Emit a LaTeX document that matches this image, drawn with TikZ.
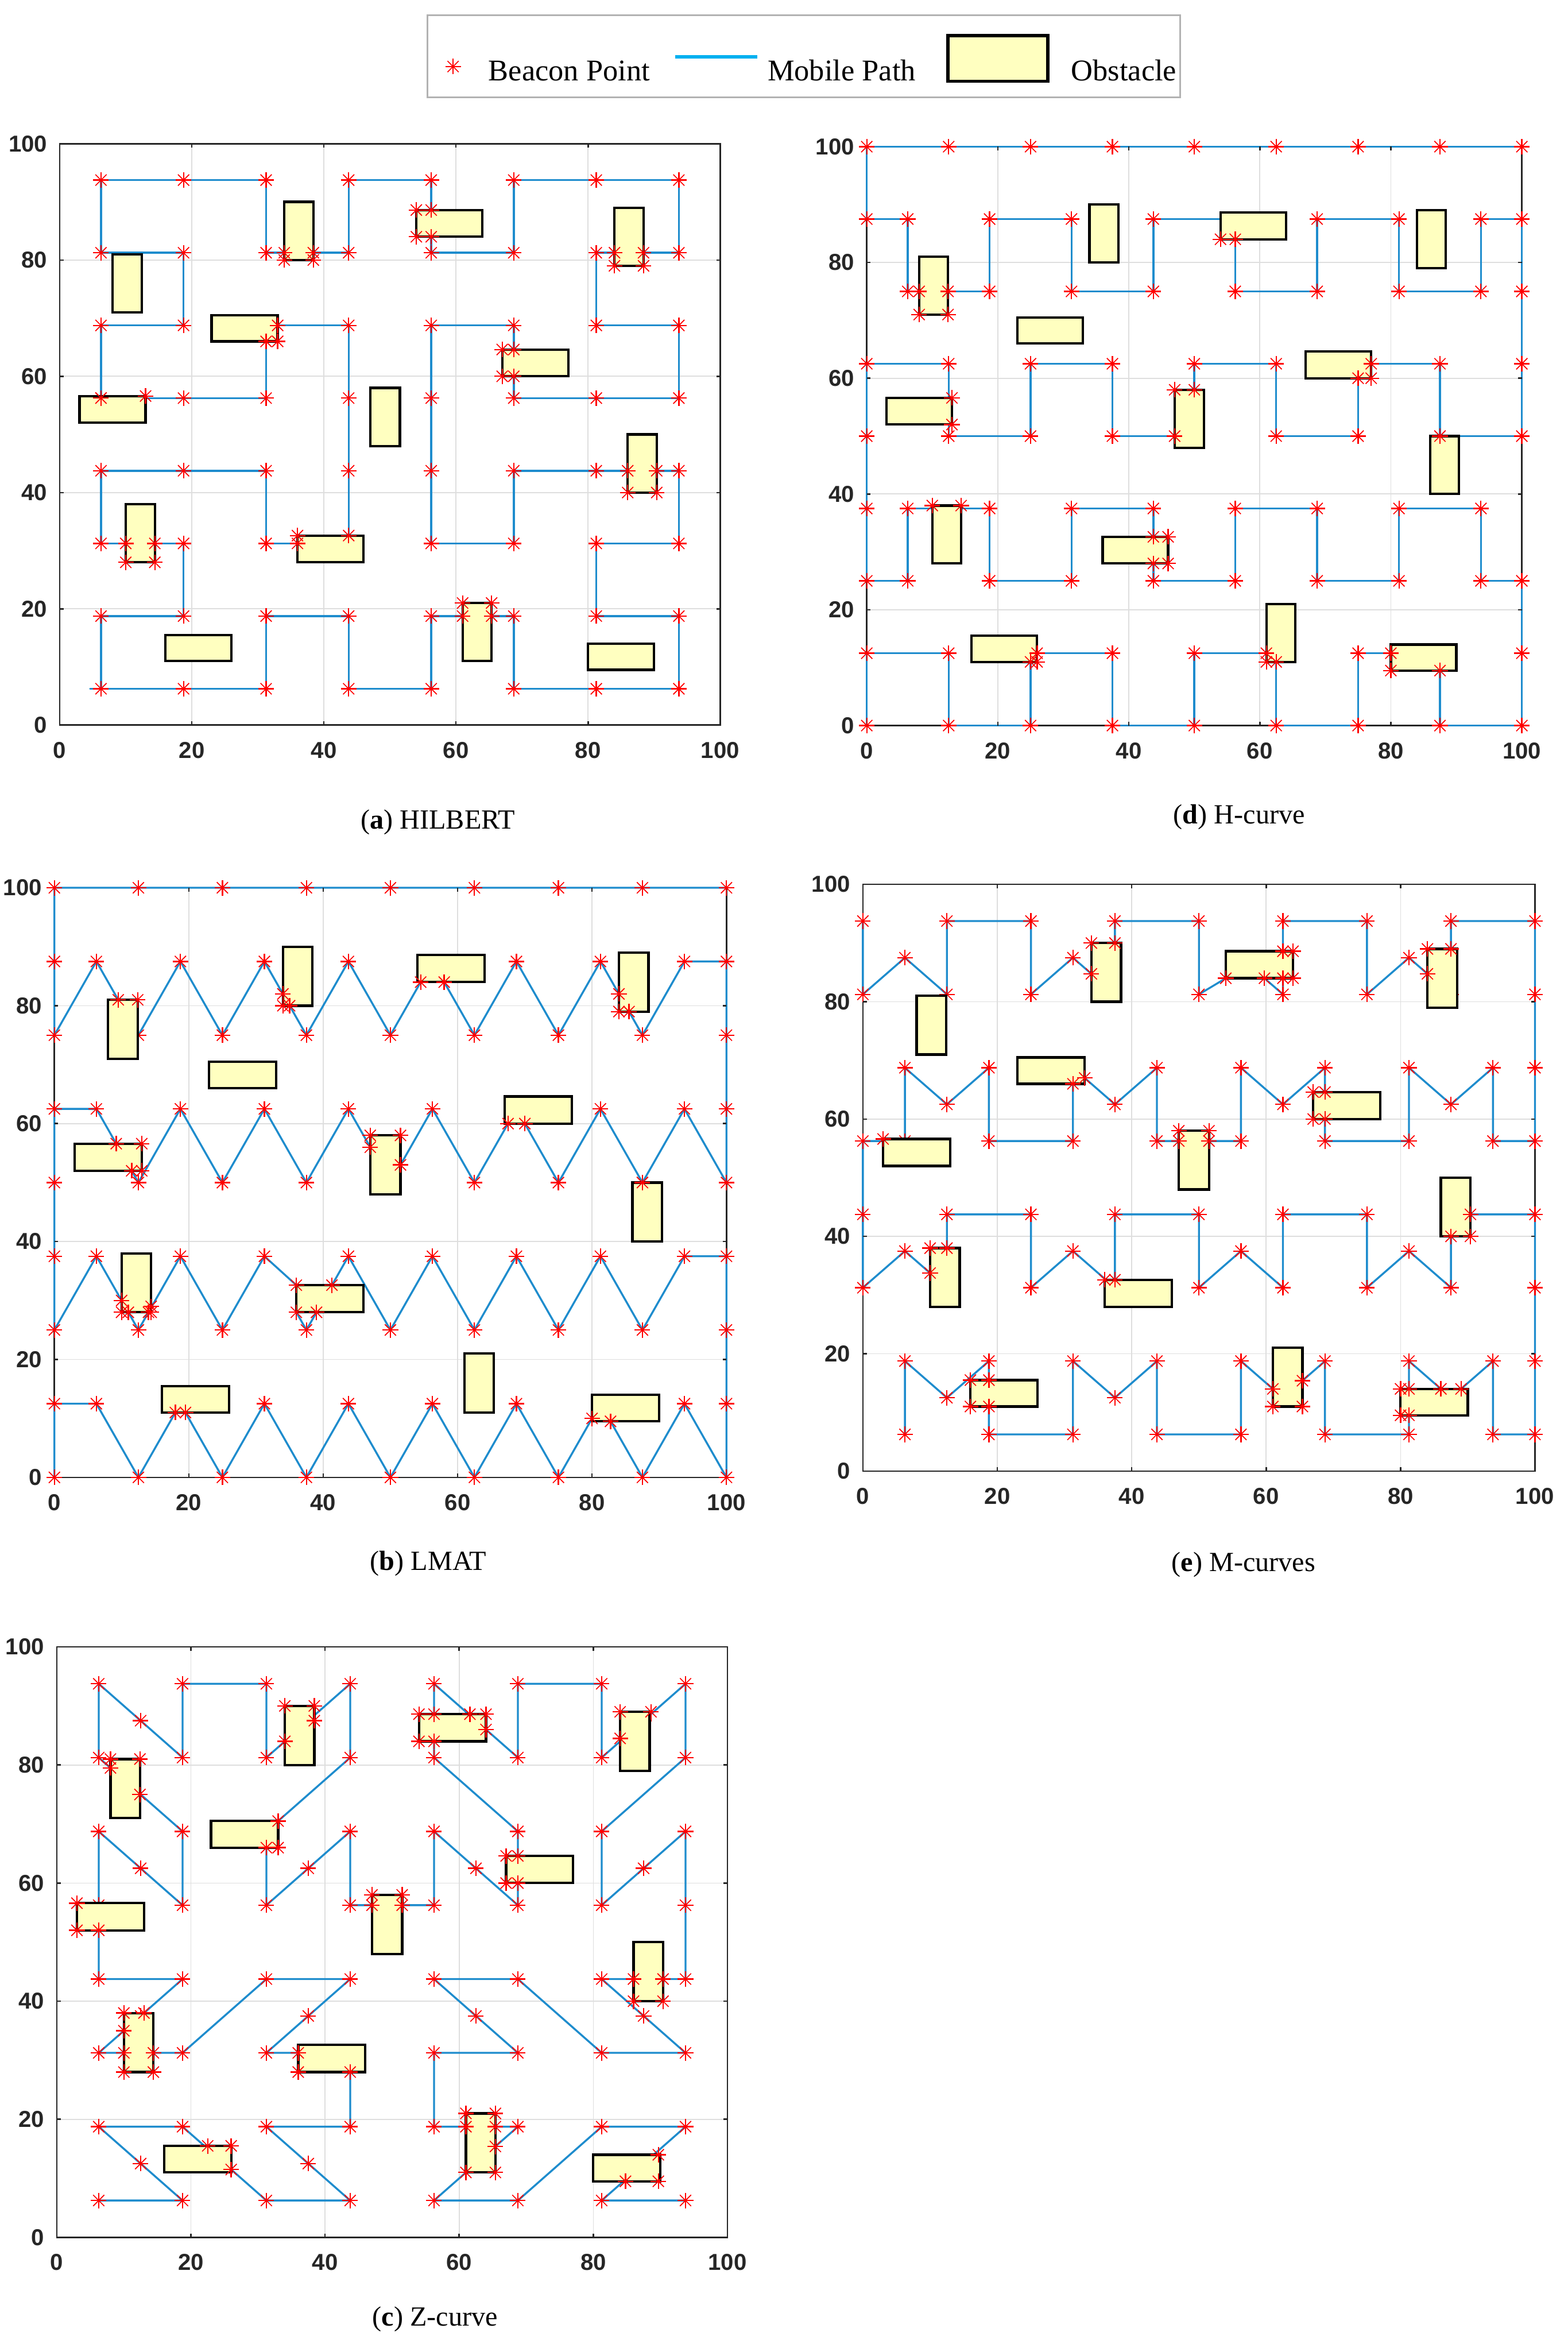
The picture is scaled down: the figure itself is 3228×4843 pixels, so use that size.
\documentclass[tikz,border=0pt]{standalone}
\usepackage{fontspec}
\setmainfont{Liberation Serif}
\newfontfamily\ticksf{Liberation Sans}
\definecolor{pathblue}{RGB}{30,140,205}
\definecolor{legblue}{RGB}{0,176,240}
\definecolor{obfill}{RGB}{255,255,192}
\definecolor{axgray}{RGB}{38,38,38}
\definecolor{gridgray}{RGB}{222,222,222}
\tikzset{
 mpath/.style={draw=pathblue,line width=0.8pt,line join=round,line cap=round},
 obst/.style={fill=obfill,draw=black,line width=1pt},
 gridln/.style={draw=gridgray,line width=0.4pt},
 axframe/.style={draw=axgray,line width=0.6pt},
 ticklab/.style={font=\ticksf\bfseries\fontsize{9.5}{11}\selectfont,text=axgray,inner sep=0pt},
 caplab/.style={font=\fontsize{11.4}{13}\selectfont,inner sep=0pt},
 leglab/.style={font=\fontsize{12.4}{14}\selectfont,inner sep=0pt,anchor=base west},
 bp/.pic={\draw[red,line width=0.55pt] (-3.2pt,0)--(3.2pt,0) (0,-3.2pt)--(0,3.2pt);
          \draw[red,line width=0.4pt] (-2.3pt,-2.3pt)--(2.3pt,2.3pt) (-2.3pt,2.3pt)--(2.3pt,-2.3pt);}
}
\newcommand\axesbg{%
  \foreach \v in {20,40,60,80} {\draw[gridln] (\v,0)--(\v,100); \draw[gridln] (0,\v)--(100,\v);}
  \draw[axframe] (0,0) rectangle (100,100);}
\newcommand\axesfg[1]{%
  \foreach \v in {20,40,60,80} {\draw[axframe] (\v,0)--++(0,1.6pt) (\v,100)--++(0,-1.6pt) (0,\v)--++(1.6pt,0) (100,\v)--++(-1.6pt,0);}
  \foreach \v in {0,20,40,60,80,100} {%
    \node[ticklab,anchor=east,xshift=-5pt] (#1y\v) at (0,\v) {\v};
    \node[ticklab,anchor=base,yshift=-13.6pt] (#1x\v) at (\v,0) {\v};}}
\newcommand\obstacles{%
  \foreach \a/\b/\c/\d in {34/80/38.4/90, 54/84/64/88.6, 84/79/88.4/89, 8/71/12.4/81, 23/66/33/70.5, 67/60/77/64.6, 3/52/13/56.6, 47/48/51.5/58, 86/40/90.4/50, 10/28/14.4/38, 36/28/46/32.6, 61/11/65.4/21, 16/11/26/15.5, 80/9.5/90/14}
  {\draw[obst] (\a,\b) rectangle (\c,\d);}}
\newcommand\mk[1]{\foreach \p in {#1} {\pic at \p {bp};}}
\newcommand\gridmk{\foreach \i in {6.25,18.75,31.25,43.75,56.25,68.75,81.25,93.75} {\foreach \j in {6.25,18.75,31.25,43.75,56.25,68.75,81.25,93.75} {\pic at (\i,\j) {bp};}}}
\begin{document}
\begin{tikzpicture}[x=0.2pt,y=-0.2pt]
\fill[white] (0,0) rectangle (3228,4843);
\useasboundingbox (0,0) rectangle (3228,4843);
% legend
\draw[draw=gray!60,line width=0.7pt] (880,31) rectangle (2430,200);
\pic at (933,137) {bp};
\node[leglab] (lbeacon) at (1005,166) {Beacon Point};
\draw[legblue,line width=1.4pt] (1390,117) -- (1560,117);
\node[leglab] (lpath) at (1580,166) {Mobile Path};
\draw[fill=obfill,draw=black,line width=1.3pt] (1952,73) rectangle (2158,167);
\node[leglab] (lobst) at (2205,166) {Obstacle};
% captions
\node[caplab] (capa) at (902,1693) {(\textbf{a}) HILBERT};
\node[caplab] (capd) at (2552,1682) {(\textbf{d}) H-curve};
\node[caplab] (capb) at (882,3219) {(\textbf{b}) LMAT};
\node[caplab] (cape) at (2561,3222) {(\textbf{e}) M-curves};
\node[caplab] (capc) at (896,4776) {(\textbf{c}) Z-curve};

% ---------------- (a) HILBERT
\begin{scope}[shift={(123,1493)},x=2.72pt,y=2.394pt]
\axesbg
\draw[mpath] (4.6,6.25) -- (6.25,6.25) -- (18.75,6.25) -- (31.25,6.25) -- (31.25,18.75) -- (43.75,18.75) -- (43.75,6.25) -- (56.25,6.25) -- (56.25,18.75) -- (68.75,18.75) -- (68.75,6.25) -- (81.25,6.25) -- (93.75,6.25) -- (93.75,18.75) -- (81.25,18.75) -- (81.25,31.25) -- (93.75,31.25) -- (93.75,43.75) -- (81.25,43.75) -- (68.75,43.75) -- (68.75,31.25) -- (56.25,31.25) -- (56.25,68.75) -- (68.75,68.75) -- (68.75,56.25) -- (81.25,56.25) -- (93.75,56.25) -- (93.75,68.75) -- (81.25,68.75) -- (81.25,81.25) -- (93.75,81.25) -- (93.75,93.75) -- (81.25,93.75) -- (68.75,93.75) -- (68.75,81.25) -- (56.25,81.25) -- (56.25,93.75) -- (43.75,93.75) -- (43.75,81.25) -- (31.25,81.25) -- (31.25,93.75) -- (18.75,93.75) -- (6.25,93.75) -- (6.25,81.25) -- (18.75,81.25) -- (18.75,68.75) -- (6.25,68.75) -- (6.25,56.25) -- (18.75,56.25) -- (31.25,56.25) -- (31.25,68.75) -- (43.75,68.75) -- (43.75,31.25) -- (31.25,31.25) -- (31.25,43.75) -- (18.75,43.75) -- (6.25,43.75) -- (6.25,31.25) -- (18.75,31.25) -- (18.75,18.75) -- (6.25,18.75) -- (6.25,6.25);
\gridmk
\obstacles
\mk{(34,81.25),(34,80),(38.4,80),(38.4,81.25),(54,88.6),(56.25,88.6),(54,84),(56.25,84),(84,81.25),(88.4,81.25),(84,79),(88.4,79),(33,68.75),(33,66),(31.25,66),(67,64.6),(68.75,64.6),(67,60),(68.75,60),(13,56.6),(6.25,56.25),(86,43.75),(90.4,43.75),(86,40),(90.4,40),(10,31.25),(14.4,31.25),(10,28),(14.4,28),(36,32.6),(43.75,32.6),(36,31.25),(61,21),(65.4,21),(61,18.75),(65.4,18.75)}
\axesfg{a}
\end{scope}

% ---------------- (d) H-curve
\begin{scope}[shift={(1785,1494)},x=2.698pt,y=2.384pt]
\axesbg
\draw[mpath] (0,0) -- (0,12.5) -- (12.5,12.5) -- (12.5,0) -- (25,0) -- (25,12.5) -- (37.5,12.5) -- (37.5,0) -- (50,0) -- (50,12.5) -- (62.5,12.5) -- (62.5,0) -- (75,0) -- (75,12.5) -- (87.5,12.5) -- (87.5,0) -- (100,0) -- (100,25) -- (93.75,25) -- (93.75,37.5) -- (81.25,37.5) -- (81.25,25) -- (68.75,25) -- (68.75,37.5) -- (56.25,37.5) -- (56.25,25) -- (43.75,25) -- (43.75,37.5) -- (31.25,37.5) -- (31.25,25) -- (18.75,25) -- (18.75,37.5) -- (6.25,37.5) -- (6.25,25) -- (0,25) -- (0,62.5) -- (12.5,62.5) -- (12.5,50) -- (25,50) -- (25,62.5) -- (37.5,62.5) -- (37.5,50) -- (50,50) -- (50,62.5) -- (62.5,62.5) -- (62.5,50) -- (75,50) -- (75,62.5) -- (87.5,62.5) -- (87.5,50) -- (100,50) -- (100,87.5) -- (93.75,87.5) -- (93.75,75) -- (81.25,75) -- (81.25,87.5) -- (68.75,87.5) -- (68.75,75) -- (56.25,75) -- (56.25,87.5) -- (43.75,87.5) -- (43.75,75) -- (31.25,75) -- (31.25,87.5) -- (18.75,87.5) -- (18.75,75) -- (6.25,75) -- (6.25,87.5) -- (0,87.5) -- (0,100) -- (100,100);
\foreach \y in {100,62.5,50,12.5,0} {\foreach \x in {0,12.5,25,37.5,50,62.5,75,87.5,100} {\pic at (\x,\y) {bp};}}
\foreach \y in {87.5,25} {\foreach \x in {0,6.25,18.75,31.25,43.75,56.25,68.75,81.25,93.75,100} {\pic at (\x,\y) {bp};}}
\foreach \x in {6.25,18.75,31.25,43.75,56.25,68.75,81.25,93.75,100} {\pic at (\x,75) {bp};}
\foreach \x in {0,6.25,18.75,31.25,43.75,56.25,68.75,81.25,93.75} {\pic at (\x,37.5) {bp};}
\obstacles
\mk{(8,75),(8,71),(12.4,71),(12.4,75),(54,84),(56.25,84),(13,56.6),(13,52),(47,58),(50,58),(47,50),(75,60),(77,60),(77,62.5),(87.5,50),(10,38),(14.4,38),(43.75,32.6),(46,32.6),(46,28),(43.75,28),(25,11),(26,11),(26,12.5),(61,12.5),(61,11),(62.5,11),(80,12.5),(80,9.5),(87.5,9.5)}
\axesfg{d}
\end{scope}

% ---------------- (b) LMAT
\begin{scope}[shift={(112,3042)},x=2.768pt,y=2.428pt]
\axesbg
\draw[mpath] (0,0) -- (0,12.5) -- (6.25,12.5) -- (12.5,0) -- (18.75,12.5) -- (25,0) -- (31.25,12.5) -- (37.5,0) -- (43.75,12.5) -- (50,0) -- (56.25,12.5) -- (62.5,0) -- (68.75,12.5) -- (75,0) -- (81.25,12.5) -- (87.5,0) -- (93.75,12.5) -- (100,0) -- (100,37.5) -- (93.75,37.5) -- (87.5,25) -- (81.25,37.5) -- (75,25) -- (68.75,37.5) -- (62.5,25) -- (56.25,37.5) -- (50,25) -- (43.75,37.5) -- (37.5,25) -- (36,28) -- (36,32.6) -- (31.25,37.5) -- (25,25) -- (18.75,37.5) -- (12.5,25) -- (6.25,37.5) -- (0,25) -- (0,62.5) -- (6.25,62.5) -- (12.5,50) -- (18.75,62.5) -- (25,50) -- (31.25,62.5) -- (37.5,50) -- (43.75,62.5) -- (50,50) -- (56.25,62.5) -- (62.5,50) -- (68.75,62.5) -- (75,50) -- (81.25,62.5) -- (87.5,50) -- (93.75,62.5) -- (100,50) -- (100,87.5) -- (93.75,87.5) -- (87.5,75) -- (81.25,87.5) -- (75,75) -- (68.75,87.5) -- (62.5,75) -- (56.25,87.5) -- (50,75) -- (43.75,87.5) -- (37.5,75) -- (31.25,87.5) -- (25,75) -- (18.75,87.5) -- (12.5,75) -- (6.25,87.5) -- (0,75) -- (0,100) -- (100,100);
\foreach \y in {87.5,62.5,37.5,12.5} {\foreach \x in {0,6.25,18.75,31.25,43.75,56.25,68.75,81.25,93.75,100} {\pic at (\x,\y) {bp};}}
\foreach \y in {100,75,50,25,0} {\foreach \x in {0,12.5,25,37.5,50,62.5,75,87.5,100} {\pic at (\x,\y) {bp};}}
\obstacles
\mk{(9.5,81),(12.4,81),(34,82),(34,80),(35,80),(54.5,84),(58,84),(84,82),(84,79),(85.5,79),(9.2,56.6),(11.5,52),(13,56.6),(13,52),(47,58),(47,56),(51.5,58),(51.5,53),(67.5,60),(70,60),(87.5,50),(10,30),(10,28),(11,28),(14,28),(14.4,28),(14.4,29),(36,32.6),(36,28),(39,28),(41.3,32.6),(18,11),(19.5,11),(80,10),(82.75,9.5)}
\axesfg{b}
\end{scope}

% ---------------- (e) M-curves
\begin{scope}[shift={(1777,3029)},x=2.768pt,y=2.416pt]
\axesbg
\draw[mpath] (0,93.75) -- (0,81.25) -- (6.25,87.5) -- (12.5,81.25) -- (12.5,93.75) -- (25,93.75) -- (25,81.25) -- (31.25,87.5) -- (37.5,81.25) -- (37.5,93.75) -- (50,93.75) -- (50,81.25) -- (54,84) -- (56.25,87.5) -- (62.5,81.25) -- (62.5,93.75) -- (75,93.75) -- (75,81.25) -- (81.25,87.5) -- (87.5,81.25) -- (87.5,93.75) -- (100,93.75) -- (100,56.25) -- (93.75,56.25) -- (93.75,68.75) -- (87.5,62.5) -- (81.25,68.75) -- (81.25,56.25) -- (68.75,56.25) -- (68.75,68.75) -- (62.5,62.5) -- (56.25,68.75) -- (56.25,56.25) -- (43.75,56.25) -- (43.75,68.75) -- (37.5,62.5) -- (31.25,68.75) -- (31.25,56.25) -- (18.75,56.25) -- (18.75,68.75) -- (12.5,62.5) -- (6.25,68.75) -- (6.25,56.25) -- (0,56.25) -- (0,31.25) -- (6.25,37.5) -- (12.5,31.25) -- (12.5,43.75) -- (25,43.75) -- (25,31.25) -- (31.25,37.5) -- (37.5,31.25) -- (37.5,43.75) -- (50,43.75) -- (50,31.25) -- (56.25,37.5) -- (62.5,31.25) -- (62.5,43.75) -- (75,43.75) -- (75,31.25) -- (81.25,37.5) -- (87.5,31.25) -- (87.5,43.75) -- (100,43.75) -- (100,6.25) -- (93.75,6.25) -- (93.75,18.75) -- (87.5,12.5) -- (81.25,18.75) -- (81.25,6.25) -- (68.75,6.25) -- (68.75,18.75) -- (62.5,12.5) -- (56.25,18.75) -- (56.25,6.25) -- (43.75,6.25) -- (43.75,18.75) -- (37.5,12.5) -- (31.25,18.75) -- (31.25,6.25) -- (18.75,6.25) -- (18.75,18.75) -- (12.5,12.5) -- (6.25,18.75) -- (6.25,6.25);
\foreach \y in {93.75,81.25,43.75,31.25} {\foreach \x in {0,12.5,25,37.5,50,62.5,75,87.5,100} {\pic at (\x,\y) {bp};}}
\foreach \y in {87.5,37.5} {\foreach \x in {6.25,31.25,56.25,81.25} {\pic at (\x,\y) {bp};}}
\foreach \y in {62.5,12.5} {\foreach \x in {12.5,37.5,62.5,87.5} {\pic at (\x,\y) {bp};}}
\foreach \y in {68.75,18.75,6.25} {\foreach \x in {6.25,18.75,31.25,43.75,56.25,68.75,81.25,93.75,100} {\pic at (\x,\y) {bp};}}
\foreach \x in {0,6.25,18.75,31.25,43.75,56.25,68.75,81.25,93.75,100} {\pic at (\x,56.25) {bp};}
\obstacles
\mk{(34,84.75),(34,90),(37.5,90),(54,84),(59.75,84),(62.5,84),(64,84),(64,88.6),(62.5,88.6),(84,84.75),(84,89),(87.5,89),(3,56.6),(31.25,66),(33,67),(47,58),(47,56.25),(51.5,58),(51.5,56.25),(68.75,64.6),(67,64.6),(67,60),(68.75,60),(10,33.75),(10,38),(12.5,38),(36,32.6),(37.5,32.6),(87.5,40),(90.4,40),(90.4,43.75),(16,15.5),(18.75,15.5),(16,11),(18.75,11),(61,14),(61,11),(65.4,11),(65.4,15.4),(86,14),(89,14),(81.25,14),(80,14),(80,9.5),(81.25,9.5)}
\axesfg{e}
\end{scope}

% ---------------- (c) Z-curve
\begin{scope}[shift={(117,4607)},x=2.762pt,y=2.432pt]
\axesbg
\draw[mpath] (6.25,6.25) -- (18.75,6.25) -- (6.25,18.75) -- (18.75,18.75) -- (31.25,6.25) -- (43.75,6.25) -- (31.25,18.75) -- (43.75,18.75) -- (43.75,31.25) -- (31.25,31.25) -- (43.75,43.75) -- (31.25,43.75) -- (18.75,31.25) -- (6.25,31.25) -- (18.75,43.75) -- (6.25,43.75) -- (6.25,56.25) -- (6.25,68.75) -- (18.75,56.25) -- (18.75,68.75) -- (6.25,81.25) -- (6.25,93.75) -- (18.75,81.25) -- (18.75,93.75) -- (31.25,93.75) -- (31.25,81.25) -- (43.75,93.75) -- (43.75,81.25) -- (31.25,68.75) -- (31.25,56.25) -- (43.75,68.75) -- (43.75,56.25) -- (56.25,56.25) -- (56.25,68.75) -- (68.75,56.25) -- (68.75,68.75) -- (56.25,81.25) -- (56.25,93.75) -- (68.75,81.25) -- (68.75,93.75) -- (81.25,93.75) -- (81.25,81.25) -- (93.75,93.75) -- (93.75,81.25) -- (81.25,68.75) -- (81.25,56.25) -- (93.75,68.75) -- (93.75,56.25) -- (93.75,43.75) -- (81.25,43.75) -- (93.75,31.25) -- (81.25,31.25) -- (68.75,43.75) -- (56.25,43.75) -- (68.75,31.25) -- (56.25,31.25) -- (56.25,18.75) -- (68.75,18.75) -- (56.25,6.25) -- (68.75,6.25) -- (81.25,18.75) -- (93.75,18.75) -- (81.25,6.25) -- (93.75,6.25);
\gridmk
\mk{(12.5,87.5),(37.5,87.5),(12.5,62.5),(37.5,62.5),(62.5,62.5),(62.5,87.5),(87.5,87.5),(87.5,62.5),(12.5,12.5),(37.5,12.5),(37.5,37.5),(12.5,37.5),(87.5,37.5),(62.5,37.5),(62.5,12.5),(87.5,12.5)}
\obstacles
\mk{(8,81),(8,79.5),(12.4,81),(12.4,75),(34,84),(34,90),(38.4,90),(38.4,87.5),(33,70.5),(33,66),(31.25,66),(47,58),(51.5,58),(47,56.25),(51.5,56.25),(3,56.6),(3,52),(6.25,52),(13,38),(10,38),(10,35),(10,31.25),(14.4,31.25),(10,28),(14.4,28),(36,31.25),(36,28),(43.75,28),(26,11.5),(26,15.5),(22.5,15.5),(54,88.6),(56.25,88.6),(54,84),(56.25,84),(61.6,88.6),(64,88.6),(64,86),(67,64.6),(67,60),(68.75,64.6),(68.75,60),(84,84.5),(84,89),(88.6,89),(86,43.75),(90.4,43.75),(86,40),(90.4,40),(61,21),(65.4,21),(61,18.75),(65.4,18.75),(65.4,15.4),(61,11),(65.4,11),(89.7,14),(89.7,9.5),(84.8,9.5)}
\axesfg{c}
\end{scope}
\end{tikzpicture}
\end{document}
